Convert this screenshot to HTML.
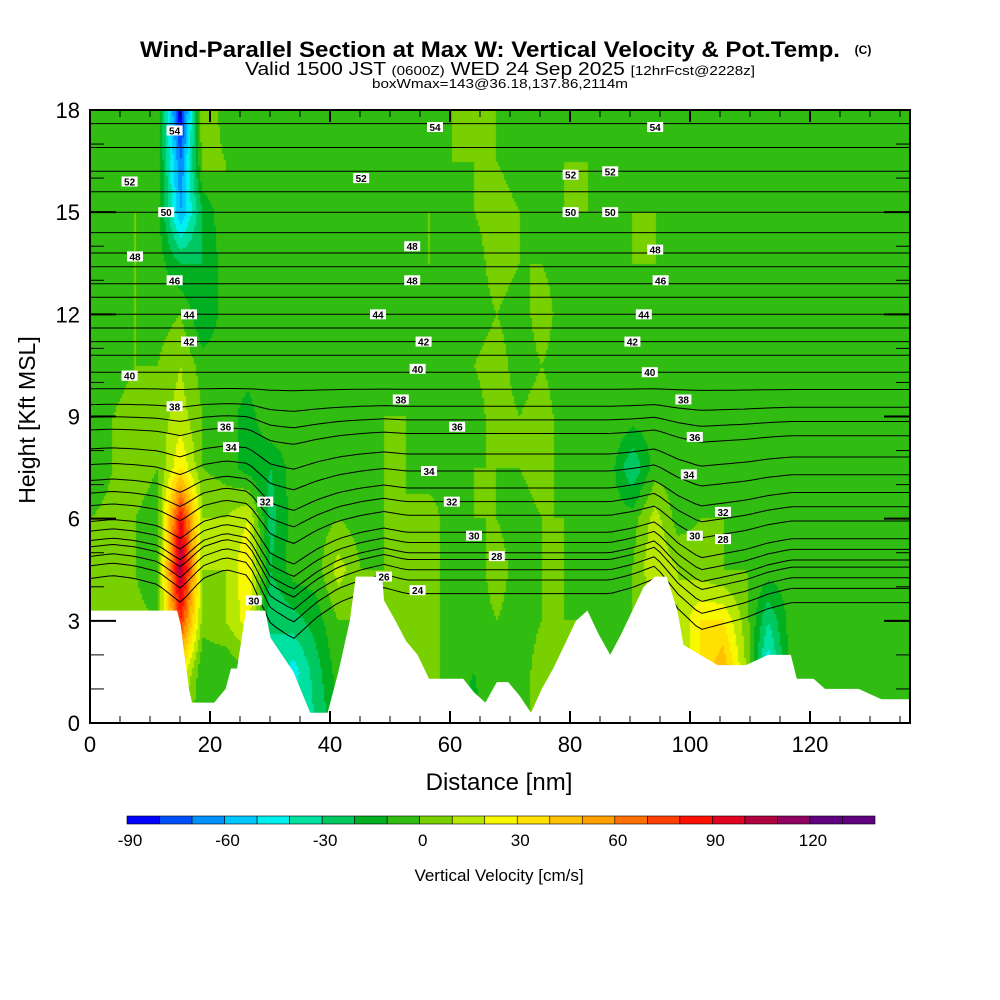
<!DOCTYPE html>
<html><head><meta charset="utf-8"><style>
body{margin:0;background:#fff;width:1000px;height:1000px;overflow:hidden;font-family:"Liberation Sans",sans-serif}
#wrap{position:relative;width:1000px;height:1000px}
svg text{font-family:"Liberation Sans",sans-serif}
</style></head><body>
<div id="wrap">
<canvas id="cv" width="820" height="613" style="position:absolute;left:90px;top:110px"></canvas>
<svg id="sv" width="1000" height="1000" style="position:absolute;left:0;top:0">
<defs><clipPath id="pc"><rect x="90" y="110" width="820" height="613"/></clipPath></defs>
<text x="490" y="57" text-anchor="middle" font-size="22" font-weight="bold" textLength="700" lengthAdjust="spacingAndGlyphs">Wind-Parallel Section at Max W: Vertical Velocity &amp; Pot.Temp.</text>
<text x="863" y="54" text-anchor="middle" font-size="12" font-weight="bold">(C)</text>
<text x="500" y="75" text-anchor="middle" font-size="18" textLength="510" lengthAdjust="spacingAndGlyphs">Valid 1500 JST <tspan font-size="13">(0600Z)</tspan> WED 24 Sep 2025 <tspan font-size="13">[12hrFcst@2228z]</tspan></text>
<text x="500" y="88" text-anchor="middle" font-size="13" textLength="256" lengthAdjust="spacingAndGlyphs">boxWmax=143@36.18,137.86,2114m</text>
<g id="lines" clip-path="url(#pc)"></g>
<g id="terrain"></g>
<g id="labels"></g>
<g id="axes"></g>
<text x="35" y="420" transform="rotate(-90 35 420)" text-anchor="middle" font-size="23">Height [Kft MSL]</text>
<text x="499" y="790" text-anchor="middle" font-size="24">Distance [nm]</text>
<g id="cbar"></g>
<text x="499" y="881" text-anchor="middle" font-size="17">Vertical Velocity [cm/s]</text>
</svg>
</div>
<script>
const colBounds=[-90,-80,-70,-60,-50,-40,-30,-20,-10,0,10,20,30,40,50,60,70,80,90,100,110,120,130];
const colColors=["#0000ff","#0050ff","#0090ff","#00c8ff","#00f0f0","#00e0a0","#00c860","#00b020","#30bc10","#78d000","#b8e800","#f8f800","#ffe000","#ffc000","#ffa000","#ff7000","#ff4000","#ff1000","#e00020","#b00040","#900060","#600080","#600080"];
const cbarTicks=[-90,-60,-30,0,30,60,90,120];
const gridNm=[0,3.8,7.5,11.3,15.1,18.8,22.6,26.4,30.1,33.9,37.7,41.4,45.2,49,52.7,56.5,60.3,64,67.8,71.6,75.3,79.1,82.9,86.7,90.4,94.2,98,101.7,105.5,109.3,113,116.8,120.6,124.3,128.1,131.9,135.6];
const gridKft=[0,1.5,3,4.5,6,7.5,9,10.5,12,13.5,15,16.5,18];
const w0=[-5,-5,-5,-5,0,-5,-10,-5,-20,-40,-30,-10,-5,0,0,5,-5,-15,0,-5,5,0,-5,-5,-5,-5,-5,10,20,5,-30,-5,-5,-5,-5,-5,-5];
const w1=[-5,-5,-5,-5,30,-10,-10,0,-30,-45,-25,-5,-5,0,0,5,-5,-10,0,-5,5,0,0,-5,-5,0,5,30,50,10,-50,-5,-5,-5,-5,-5,-5];
const w2=[2,2,2,0,80,5,10,25,-30,-25,-15,0,0,5,0,5,-5,-5,0,-5,0,0,0,-5,0,5,10,30,30,5,-30,-5,-5,-5,-5,-5,-5];
const w3=[2,5,0,-5,110,10,10,30,-20,-5,-5,15,0,0,5,5,-5,-5,5,-5,0,0,-5,-5,0,20,10,5,0,0,-5,-5,-5,-5,-5,-5,-5];
const w4=[0,2,0,-5,90,10,10,20,-25,-5,-5,0,-5,0,0,5,-5,0,0,-5,0,0,-5,-5,-5,15,-5,0,0,-5,-5,-5,-5,-5,-5,-5,-5];
const w5=[-5,0,5,0,30,0,-5,-15,-20,-5,0,-5,-5,0,0,-5,-5,0,0,0,5,-5,0,-5,-30,-5,-5,0,-5,-5,-5,-5,-5,-5,-5,-5,-5];
const w6=[-5,0,5,5,15,0,-5,-15,0,-5,0,-5,-5,0,0,-5,0,-5,5,0,5,-5,0,0,-5,-5,-5,0,-5,-5,-5,-5,-5,0,-5,-5,-5];
const w7=[-5,-5,0,0,10,-5,-5,-5,0,-5,0,-5,-5,0,-5,-5,0,0,5,-5,0,-5,0,-5,0,-5,0,0,0,-5,-5,-5,0,-5,-5,-5,-5];
const w8=[-5,-5,0,-5,0,-20,-5,0,0,-5,-5,0,-5,0,-5,-5,0,-5,0,-5,5,-5,0,-5,-5,0,0,-5,-5,0,-5,-5,-5,-5,-5,-5,-5];
const w9=[-5,-5,0,-5,-20,-20,-5,0,-5,-5,0,-5,0,0,-5,0,0,-5,5,0,0,-5,0,-5,0,0,-5,0,-5,-5,-5,-5,-5,-5,-5,-5,-5];
const w10=[-5,-5,0,-5,-60,-20,0,0,-5,-5,0,-5,-5,0,-5,0,-5,0,5,0,-5,0,0,-5,0,0,-5,0,-5,-5,-5,-5,-5,-5,-5,-5,-5];
const w11=[-5,-5,-5,-5,-70,5,0,-5,-5,-5,0,-5,0,0,0,-5,0,0,0,-5,-5,0,0,-5,-5,0,-5,0,-5,-5,-5,-5,-5,-5,-5,-5,-5];
const w12=[-5,-5,-5,-5,-90,10,-5,-5,-5,-5,-5,-5,-5,0,-5,-5,0,0,0,-5,-5,0,-5,-5,-5,0,-5,-5,-5,-5,-5,-5,-5,-5,-5,-5,-5];
const wRows=[w0,w1,w2,w3,w4,w5,w6,w7,w8,w9,w10,w11,w12];
const terrNm=[0,14.5,15.1,15.8,16.5,17,20.7,22.6,23.5,24.5,26,29.2,30.1,32,33.9,36.7,39.6,41.4,43.3,44.3,48.7,49,50.9,52.7,54.6,56.5,62.2,64,65.9,67.8,69.7,71.6,73.5,75.3,77.2,79.1,81,82.9,84.8,86.7,88.5,90.4,92.3,94.2,96.1,97.9,98.9,101.7,104.6,107.4,109.3,113,116.8,117.8,120.6,122.5,128.1,131.9,135.6,137];
const terrKft=[3.3,3.3,2.9,1.9,1.0,0.6,0.6,1.0,1.6,1.6,3.3,3.3,2.5,2.0,1.5,0.3,0.3,1.5,3.0,4.3,4.3,3.6,3.0,2.4,2.0,1.3,1.3,0.9,0.6,1.2,1.2,0.8,0.3,1.0,1.6,2.3,3.0,3.3,2.6,2.0,2.6,3.3,4.0,4.3,4.3,3.3,2.3,2.0,1.7,1.7,1.7,2.0,2.0,1.3,1.3,1.0,1.0,0.7,0.7,0.7];
const thetaLevels=[24,25,26,27,28,29,30,31,32,33,34,35,36,37,38,39,40,41,42,43,44,45,46,47,48,49,50,51,52,53,54,55];
const thetaBase=[3.8,4.2,4.5,4.8,5.0,5.3,5.6,6.1,6.5,6.9,7.4,7.9,8.5,8.9,9.3,9.8,10.3,10.8,11.2,11.6,12.0,12.5,12.9,13.4,13.8,14.4,15.0,15.6,16.2,16.9,17.6,18.3];
const thetaPert=[0.5,0.6,0.5,0.3,-0.3,0.5,0.8,0.6,-1.0,-1.5,-0.8,-0.3,0,0.2,0,0,0,0,0,0,0,0,0,0,0.2,0.5,-0.5,-1.2,-1.0,-0.8,-0.5,-0.3,-0.3,-0.3,-0.3,-0.3,-0.3];
const lblText=["54","52","50","48","46","44","42","40","38","36","34","32","30","52","48","40","54","52","50","48","48","44","42","40","38","36","34","32","30","28","26","24","54","52","50","48","46","44","42","40","38","36","34","32","30","28"];
const lblNm=[14.1,6.6,12.7,7.5,14.1,16.5,16.5,6.6,14.1,22.6,23.5,29.2,27.3,45.2,7.5,6.6,57.5,80.1,80.1,53.7,53.7,48,55.6,54.6,51.8,61.2,56.5,60.3,64,67.8,49,54.6,94.2,86.7,86.7,94.2,95.1,92.3,90.4,93.3,98.9,100.8,99.8,105.5,100.8,105.5];
const lblKft=[17.4,15.9,15.0,13.7,13.0,12.0,11.2,10.2,9.3,8.7,8.1,6.5,3.6,16.0,13.7,10.2,17.5,16.1,15.0,14.0,13.0,12.0,11.2,10.4,9.5,8.7,7.4,6.5,5.5,4.9,4.3,3.9,17.5,16.2,15.0,13.9,13.0,12.0,11.2,10.3,9.5,8.4,7.3,6.2,5.5,5.4];

const X0=90,X1=910,Y0=723,Y1=110,PXN=6.0,NMAX=(X1-X0)/PXN;
const xs=nm=>X0+nm*PXN;
const ys=k=>Y0-k*(Y0-Y1)/18;
const NS="http://www.w3.org/2000/svg";
function colorFor(v){let i=0;for(let j=0;j<colBounds.length;j++){if(v>=colBounds[j])i=j;}return colColors[i];}
function interp(arr,val){if(val<=arr[0])return [0,0];for(let i=0;i<arr.length-1;i++){if(val<=arr[i+1])return [i,(val-arr[i])/(arr[i+1]-arr[i])];}return [arr.length-2,1];}
function wAt(nm,k){const [i,fx]=interp(gridNm,nm);const [j,fy]=interp(gridKft,k);
const a=wRows[j][i],b=wRows[j][i+1],c=wRows[j+1][i],d=wRows[j+1][i+1];
return (a*(1-fx)+b*fx)*(1-fy)+(c*(1-fx)+d*fx)*fy;}
const cv=document.getElementById('cv'),ctx=cv.getContext('2d');
for(let px=0;px<820;px+=2){for(let py=0;py<613;py+=2){const nm=(px+1)/PXN,k=(613-py-1)/(613/18);ctx.fillStyle=colorFor(wAt(nm,k));ctx.fillRect(px,py,2,2);}}
const lg=document.getElementById('lines');
thetaLevels.forEach((t,li)=>{let d='';for(let nm=0;nm<=NMAX+1;nm+=1){const [i,f]=interp(gridNm,nm);const p=thetaPert[i]+(thetaPert[i+1]-thetaPert[i])*f;
const amp=Math.max(0,1-(thetaBase[li]-3)/7);const h=thetaBase[li]+p*amp;d+=(nm?'L':'M')+xs(nm).toFixed(1)+','+ys(h).toFixed(1);}
const el=document.createElementNS(NS,'path');el.setAttribute('d',d);el.setAttribute('fill','none');el.setAttribute('stroke','#000');el.setAttribute('stroke-width','1');


lg.appendChild(el);});
let td='M'+X0+','+Y0;terrNm.forEach((n,i)=>{td+='L'+xs(Math.min(n,NMAX)).toFixed(1)+','+ys(terrKft[i]).toFixed(1);});td+='L'+X1+','+Y0+'Z';
const tp=document.createElementNS(NS,'path');tp.setAttribute('d',td);tp.setAttribute('fill','#fff');


document.getElementById('terrain').appendChild(tp);
const lb=document.getElementById('labels');
lblText.forEach((s,i)=>{const g=document.createElementNS(NS,'g');const x=xs(lblNm[i]),y=ys(lblKft[i]);


g.innerHTML='<rect x="'+(x-8)+'" y="'+(y-5)+'" width="16" height="10" fill="#fff"/><text x="'+x+'" y="'+(y+4)+'" font-size="10" font-weight="bold" text-anchor="middle">'+s+'</text>';lb.appendChild(g);});
const ax=document.getElementById('axes');let ah='<rect x="'+X0+'" y="'+Y1+'" width="'+(X1-X0)+'" height="'+(Y0-Y1)+'" fill="none" stroke="#000" stroke-width="2"/>';
for(let nm=0;nm<=NMAX;nm+=5){const x=xs(nm),L=nm%20==0?12:7;ah+='<line x1="'+x+'" y1="'+Y0+'" x2="'+x+'" y2="'+(Y0-L)+'" stroke="#000" stroke-width="'+(nm%20==0?2:1)+'"/><line x1="'+x+'" y1="'+Y1+'" x2="'+x+'" y2="'+(Y1+L)+'" stroke="#000" stroke-width="'+(nm%20==0?2:1)+'"/>';
if(nm%20==0)ah+='<text x="'+x+'" y="'+(Y0+29)+'" font-size="22" text-anchor="middle">'+nm+'</text>';}
for(let k=0;k<=18;k++){const y=ys(k),L=k%3==0?26:14;ah+='<line x1="'+X0+'" y1="'+y+'" x2="'+(X0+L)+'" y2="'+y+'" stroke="#000" stroke-width="'+(k%3==0?2:1)+'"/><line x1="'+X1+'" y1="'+y+'" x2="'+(X1-L)+'" y2="'+y+'" stroke="#000" stroke-width="'+(k%3==0?2:1)+'"/>';
if(k%3==0)ah+='<text x="'+(X0-10)+'" y="'+(y+8)+'" font-size="22" text-anchor="end">'+k+'</text>';}
ax.innerHTML=ah;
const cb=document.getElementById('cbar');let ch='';const cw=(875-127)/colBounds.length;
colBounds.forEach((b,i)=>{ch+='<rect x="'+(127+i*cw)+'" y="816" width="'+cw+'" height="8" fill="'+colColors[i]+'" stroke="#000" stroke-width="0.6"/>';});
cbarTicks.forEach(v=>{const x=127+(v+90)/10*cw;ch+='<text x="'+(x+3)+'" y="846" font-size="17" text-anchor="middle">'+v+'</text>';});
cb.innerHTML=ch;
</script>
</body></html>
